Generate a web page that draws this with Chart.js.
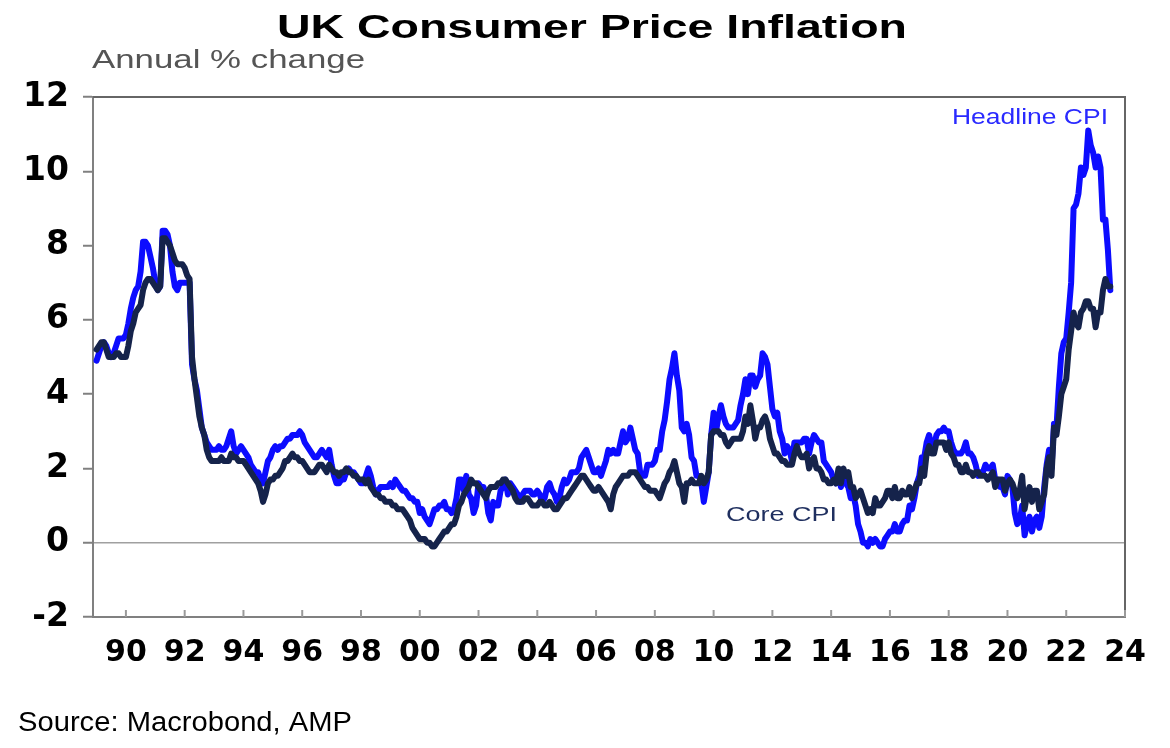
<!DOCTYPE html>
<html>
<head>
<meta charset="utf-8">
<title>UK Consumer Price Inflation</title>
<script src="https://cdn.jsdelivr.net/npm/chart.js@4.4.1/dist/chart.umd.min.js"></script>
<style>
  html, body { margin: 0; padding: 0; background: #fff; }
  #wrap { width: 1170px; height: 748px; position: relative; }
</style>
</head>
<body>
<div id="wrap"><canvas id="chartCPI"></canvas></div>
<script>
// Monthly data, one row per year, starting January 1989
const startYear = 1989;

const headlineCPI = [
  4.9, 5.1, 5.3, 5.4, 5.3, 5.1, 5.0, 5.1, 5.3, 5.5, 5.5, 5.5,   // 1989
  5.6, 5.9, 6.3, 6.6, 6.8, 6.9, 7.3, 8.1, 8.1, 8.0, 7.7, 7.4,   // 1990
  7.0, 6.8, 6.9, 8.4, 8.4, 8.3, 8.0, 7.3, 6.9, 6.8, 7.0, 7.0,   // 1991
  7.0, 7.0, 7.0, 4.8, 4.4, 4.1, 3.6, 3.1, 2.9, 2.7, 2.6, 2.5,   // 1992
  2.5, 2.5, 2.6, 2.5, 2.5, 2.6, 2.8, 3.0, 2.6, 2.4, 2.5, 2.6,   // 1993
  2.5, 2.4, 2.3, 2.1, 2.0, 1.9, 1.9, 1.7, 1.6, 1.9, 2.2, 2.3,   // 1994
  2.5, 2.6, 2.5, 2.6, 2.6, 2.7, 2.8, 2.8, 2.9, 2.9, 2.9, 3.0,   // 1995
  2.9, 2.7, 2.6, 2.5, 2.4, 2.3, 2.3, 2.4, 2.5, 2.4, 2.3, 2.5,   // 1996
  2.1, 1.8, 1.6, 1.6, 1.7, 1.7, 1.9, 2.0, 1.9, 1.9, 1.8, 1.7,   // 1997
  1.6, 1.6, 1.8, 2.0, 1.8, 1.5, 1.3, 1.4, 1.5, 1.5, 1.5, 1.5,   // 1998
  1.6, 1.5, 1.7, 1.6, 1.5, 1.4, 1.4, 1.3, 1.2, 1.2, 1.1, 1.1,   // 1999
  0.8, 0.9, 0.7, 0.6, 0.5, 0.7, 0.9, 0.9, 1.0, 1.0, 1.1, 0.9,   // 2000
  0.9, 0.8, 0.9, 1.2, 1.7, 1.7, 1.4, 1.8, 1.3, 1.2, 0.8, 1.0,   // 2001
  1.6, 1.5, 1.5, 1.3, 0.8, 0.6, 1.1, 1.0, 1.0, 1.4, 1.5, 1.7,   // 2002
  1.3, 1.6, 1.5, 1.4, 1.3, 1.1, 1.3, 1.4, 1.4, 1.4, 1.3, 1.3,   // 2003
  1.4, 1.3, 1.1, 1.2, 1.5, 1.6, 1.4, 1.3, 1.1, 1.2, 1.5, 1.7,   // 2004
  1.6, 1.7, 1.9, 1.9, 1.9, 2.0, 2.3, 2.4, 2.5, 2.3, 2.1, 1.9,   // 2005
  1.9, 2.0, 1.8, 2.0, 2.2, 2.5, 2.4, 2.5, 2.4, 2.4, 2.7, 3.0,   // 2006
  2.7, 2.8, 3.1, 2.8, 2.5, 2.4, 1.9, 1.8, 1.8, 2.1, 2.1, 2.1,   // 2007
  2.2, 2.5, 2.5, 3.0, 3.3, 3.8, 4.4, 4.7, 5.1, 4.5, 4.1, 3.1,   // 2008
  3.0, 3.2, 2.9, 2.3, 2.2, 1.8, 1.8, 1.6, 1.1, 1.5, 1.9, 2.9,   // 2009
  3.5, 3.0, 3.4, 3.7, 3.4, 3.2, 3.1, 3.1, 3.1, 3.2, 3.3, 3.7,   // 2010
  4.0, 4.4, 4.0, 4.5, 4.5, 4.2, 4.4, 4.5, 5.1, 5.0, 4.8, 4.2,   // 2011
  3.6, 3.4, 3.5, 3.0, 2.8, 2.4, 2.6, 2.5, 2.2, 2.7, 2.7, 2.7,   // 2012
  2.7, 2.8, 2.8, 2.4, 2.7, 2.9, 2.8, 2.7, 2.7, 2.2, 2.1, 2.0,   // 2013
  1.9, 1.7, 1.6, 1.8, 1.5, 1.9, 1.6, 1.5, 1.2, 1.3, 1.0, 0.5,   // 2014
  0.3, 0.0, 0.0, -0.1, 0.1, 0.0, 0.1, 0.0, -0.1, -0.1, 0.1, 0.2, // 2015
  0.3, 0.3, 0.5, 0.3, 0.3, 0.5, 0.6, 0.6, 1.0, 0.9, 1.2, 1.6,   // 2016
  1.8, 2.3, 2.3, 2.7, 2.9, 2.6, 2.6, 2.9, 3.0, 3.0, 3.1, 3.0,   // 2017
  3.0, 2.7, 2.5, 2.4, 2.4, 2.4, 2.5, 2.7, 2.4, 2.4, 2.3, 2.1,   // 2018
  1.8, 1.9, 1.9, 2.1, 2.0, 2.0, 2.1, 1.7, 1.7, 1.5, 1.5, 1.3,   // 2019
  1.8, 1.7, 1.5, 0.8, 0.5, 0.6, 1.0, 0.2, 0.5, 0.7, 0.3, 0.6,   // 2020
  0.7, 0.4, 0.7, 1.5, 2.1, 2.5, 2.0, 3.2, 3.1, 4.2, 5.1, 5.4,   // 2021
  5.5, 6.2, 7.0, 9.0, 9.1, 9.4, 10.1, 9.9, 10.1, 11.1, 10.7, 10.5, // 2022
  10.1, 10.4, 10.1, 8.7, 8.7, 7.9, 6.8                          // 2023
];

const coreCPI = [
  5.2, 5.3, 5.4, 5.4, 5.2, 5.0, 5.0, 5.0, 5.1, 5.1, 5.0, 5.0,   // 1989
  5.0, 5.3, 5.7, 5.9, 6.2, 6.3, 6.4, 6.8, 7.0, 7.1, 7.1, 7.0,   // 1990
  6.9, 6.8, 6.9, 8.2, 8.2, 8.1, 8.0, 7.8, 7.6, 7.5, 7.5, 7.5,   // 1991
  7.4, 7.2, 7.1, 5.0, 4.4, 3.9, 3.4, 3.1, 2.9, 2.5, 2.3, 2.2,   // 1992
  2.2, 2.2, 2.2, 2.3, 2.2, 2.2, 2.2, 2.4, 2.3, 2.3, 2.2, 2.2,   // 1993
  2.2, 2.1, 2.0, 1.9, 1.8, 1.7, 1.6, 1.4, 1.1, 1.3, 1.6, 1.7,   // 1994
  1.7, 1.8, 1.8, 1.9, 2.0, 2.2, 2.2, 2.3, 2.4, 2.3, 2.3, 2.2,   // 1995
  2.2, 2.1, 2.0, 1.9, 1.9, 1.9, 2.0, 2.1, 2.1, 2.0, 1.9, 2.1,   // 1996
  2.0, 1.9, 1.9, 1.8, 1.9, 1.9, 2.0, 1.9, 1.9, 1.8, 1.8, 1.7,   // 1997
  1.7, 1.7, 1.6, 1.7, 1.5, 1.4, 1.3, 1.3, 1.2, 1.2, 1.1, 1.1,   // 1998
  1.1, 1.0, 1.0, 0.9, 0.9, 0.9, 0.8, 0.7, 0.6, 0.4, 0.3, 0.2,   // 1999
  0.1, 0.1, 0.1, 0.0, 0.0, -0.1, -0.1, 0.0, 0.1, 0.2, 0.3, 0.3, // 2000
  0.4, 0.5, 0.5, 0.7, 1.0, 1.1, 1.3, 1.4, 1.5, 1.7, 1.6, 1.6,   // 2001
  1.5, 1.4, 1.3, 1.2, 1.4, 1.5, 1.5, 1.5, 1.6, 1.6, 1.7, 1.7,   // 2002
  1.6, 1.5, 1.4, 1.2, 1.1, 1.1, 1.1, 1.2, 1.2, 1.1, 1.0, 1.0,   // 2003
  1.0, 1.1, 1.1, 1.0, 1.0, 1.1, 1.0, 0.9, 0.9, 1.0, 1.1, 1.2,   // 2004
  1.2, 1.3, 1.4, 1.5, 1.6, 1.7, 1.8, 1.8, 1.7, 1.6, 1.5, 1.4,   // 2005
  1.4, 1.5, 1.4, 1.3, 1.2, 1.1, 0.9, 1.3, 1.5, 1.6, 1.7, 1.8,   // 2006
  1.8, 1.8, 1.9, 1.9, 1.9, 1.8, 1.7, 1.6, 1.5, 1.5, 1.4, 1.4,   // 2007
  1.4, 1.3, 1.2, 1.4, 1.6, 1.7, 1.9, 2.0, 2.2, 1.9, 1.6, 1.5,   // 2008
  1.1, 1.6, 1.6, 1.7, 1.6, 1.6, 1.6, 1.8, 1.6, 1.7, 1.9, 2.9,   // 2009
  3.0, 3.0, 3.0, 2.9, 2.9, 2.7, 2.6, 2.7, 2.8, 2.8, 2.8, 2.8,   // 2010
  3.0, 3.4, 3.2, 3.7, 3.3, 2.8, 3.1, 3.1, 3.3, 3.4, 3.2, 2.8,   // 2011
  2.6, 2.4, 2.4, 2.3, 2.2, 2.2, 2.1, 2.1, 2.1, 2.4, 2.6, 2.4,   // 2012
  2.3, 2.3, 2.4, 2.0, 2.2, 2.3, 2.0, 2.0, 1.9, 1.7, 1.7, 1.6,   // 2013
  1.6, 1.7, 1.6, 2.0, 1.6, 2.0, 1.8, 1.9, 1.5, 1.5, 1.2, 1.3,   // 2014
  1.4, 1.2, 1.0, 0.8, 0.9, 0.8, 1.2, 1.0, 1.0, 1.1, 1.2, 1.4,   // 2015
  1.4, 1.2, 1.5, 1.2, 1.2, 1.4, 1.3, 1.3, 1.5, 1.2, 1.4, 1.6,   // 2016
  1.6, 2.0, 1.8, 2.4, 2.6, 2.4, 2.4, 2.7, 2.7, 2.7, 2.7, 2.5,   // 2017
  2.7, 2.4, 2.3, 2.1, 2.1, 1.9, 1.9, 2.1, 1.9, 1.9, 1.8, 1.9,   // 2018
  1.9, 1.8, 1.8, 1.8, 1.7, 1.8, 1.9, 1.5, 1.7, 1.7, 1.7, 1.4,   // 2019
  1.6, 1.7, 1.6, 1.4, 1.2, 1.4, 1.8, 0.9, 1.3, 1.5, 1.1, 1.4,   // 2020
  1.4, 0.9, 1.1, 1.3, 2.0, 2.3, 1.8, 3.1, 2.9, 3.4, 4.0, 4.2,   // 2021
  4.4, 5.2, 5.7, 6.2, 5.9, 5.8, 6.2, 6.3, 6.5, 6.5, 6.3, 6.3,   // 2022
  5.8, 6.2, 6.2, 6.8, 7.1, 6.9, 6.9                             // 2023
];

const xTickYears = [1990, 1992, 1994, 1996, 1998, 2000, 2002, 2004, 2006,
  2008, 2010, 2012, 2014, 2016, 2018, 2020, 2022, 2024];
const yMin = -2;
const yMax = 12;

const toPoints = arr => arr.map((v, i) => ({ x: startYear + i / 12, y: v }));

// Draws text squeezed/stretched horizontally to a given width
function drawText(ctx, text, x, baseline, width, font, color) {
  ctx.save();
  ctx.font = font;
  const w = ctx.measureText(text).width;
  ctx.translate(x, baseline);
  ctx.scale(width / w, 1);
  ctx.fillStyle = color;
  ctx.textBaseline = 'alphabetic';
  ctx.textAlign = 'left';
  ctx.fillText(text, 0, 0);
  ctx.restore();
}

const frameAndText = {
  id: 'frameAndText',
  afterDraw(chart) {
    const { ctx, chartArea: a, scales } = chart;
    ctx.save();
    ctx.lineWidth = 2;
    ctx.strokeStyle = '#666666';
    ctx.beginPath();
    ctx.moveTo(a.left, a.top);
    ctx.lineTo(a.right, a.top);
    ctx.lineTo(a.right, a.bottom);
    ctx.stroke();
    // short tick marks pointing up into the plot
    ctx.strokeStyle = '#9a9a9a';
    xTickYears.forEach(yr => {
      const px = scales.x.getPixelForValue(yr);
      ctx.beginPath();
      ctx.moveTo(px, a.bottom);
      ctx.lineTo(px, a.bottom - 7);
      ctx.stroke();
    });
    ctx.restore();

    drawText(ctx, 'UK Consumer Price Inflation', 277, 38, 630, 'bold 34px "Liberation Sans", Arial, sans-serif', '#000');
    drawText(ctx, 'Annual % change', 92, 68, 273, '25px "Liberation Sans", Arial, sans-serif', '#555');
    drawText(ctx, 'Headline CPI', 952, 124, 156, '22px "Liberation Sans", Arial, sans-serif', '#2a2aff');
    drawText(ctx, 'Core CPI', 726, 521, 111, '20px "Liberation Sans", Arial, sans-serif', '#1f2f5f');
    drawText(ctx, 'Source: Macrobond, AMP', 18, 731, 334, '27px "Liberation Sans", Arial, sans-serif', '#000');
  }
};

window.onload = function() {
  const ctxCPI = document.getElementById('chartCPI').getContext('2d');
  new Chart(ctxCPI, {
    type: 'line',
    data: {
      datasets: [{
        label: 'Headline CPI',
        data: toPoints(headlineCPI),
        borderColor: '#0c0cff',
        borderWidth: 6,
        borderJoinStyle: 'round',
        borderCapStyle: 'round',
        pointRadius: 0,
        tension: 0,
        order: 2
      }, {
        label: 'Core CPI',
        data: toPoints(coreCPI),
        borderColor: '#15234b',
        borderWidth: 6,
        borderJoinStyle: 'round',
        borderCapStyle: 'round',
        pointRadius: 0,
        tension: 0,
        order: 1
      }]
    },
    options: {
      responsive: true,
      maintainAspectRatio: false,
      animation: false,
      layout: { padding: { left: 0, right: 45, top: 97, bottom: 0 } },
      plugins: {
        legend: { display: false },
        tooltip: { enabled: false },
        title: { display: false }
      },
      scales: {
        x: {
          type: 'linear',
          min: 1988.88,
          max: 2024,
          afterBuildTicks: axis => { axis.ticks = xTickYears.map(v => ({ value: v })); },
          afterFit: scale => { scale.height = 131; },
          ticks: {
            autoSkip: false,
            maxRotation: 0,
            padding: 18,
            color: '#000',
            font: { family: '"DejaVu Sans"', size: 30, weight: 'bold' },
            callback: v => String(v % 100).padStart(2, '0')
          },
          grid: { drawOnChartArea: false, drawTicks: false },
          border: { color: '#808080', width: 2 }
        },
        y: {
          min: yMin,
          max: yMax,
          afterFit: scale => { scale.width = 93; },
          ticks: {
            stepSize: 1,
            padding: 14,
            color: '#000',
            font: { family: '"DejaVu Sans"', size: 33, weight: 'bold' },
            callback: v => (v % 2 === 0 ? v : '')
          },
          grid: {
            drawOnChartArea: true,
            drawTicks: true,
            tickLength: 10,
            tickColor: '#808080',
            tickWidth: 2,
            lineWidth: 1.5,
            color: c => (c.tick && c.tick.value === 0 ? '#a0a0a0' : 'rgba(0,0,0,0)')
          },
          border: { color: '#808080', width: 2 }
        }
      }
    },
    plugins: [frameAndText]
  });
};
</script>
</body>
</html>
